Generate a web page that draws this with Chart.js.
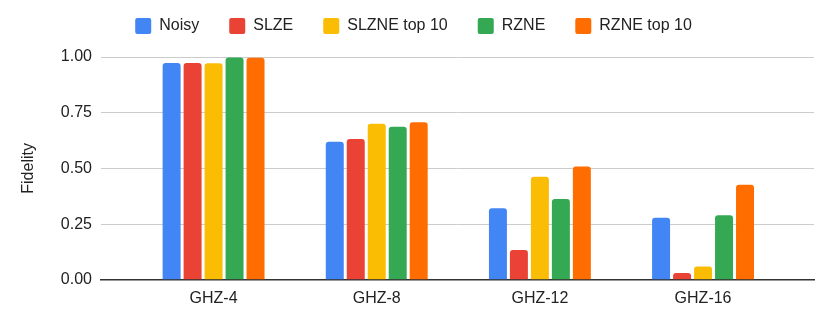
<!DOCTYPE html>
<html>
<head>
<meta charset="utf-8">
<script src="https://cdn.jsdelivr.net/npm/chart.js@4/dist/chart.umd.min.js"></script>
<style>
  html, body { margin: 0; padding: 0; background: #fff; }
  #wrap { width: 830px; height: 324px; }
</style>
</head>
<body>
<div id="wrap"><canvas id="chart"></canvas></div>
<script>
// values
const categories = ['GHZ-4', 'GHZ-8', 'GHZ-12', 'GHZ-16'];
const noisy = [0.973, 0.620, 0.321, 0.278];
const slze = [0.973, 0.632, 0.134, 0.030];
const slzneTop10 = [0.972, 0.700, 0.463, 0.060];
const rzne = [0.998, 0.687, 0.363, 0.290];
const rzneTop10 = [0.997, 0.707, 0.508, 0.427];
const yTicks = [0, 0.25, 0.5, 0.75, 1];

const font = "Arial, 'Liberation Sans', sans-serif";
Chart.defaults.font.family = font;
Chart.defaults.font.size = 16;
Chart.defaults.color = '#222';

const points = (vals) => vals.map((v, i) => ({ x: i, y: v }));

const series = [
    { label: 'Noisy', data: noisy, color: '#4285F4' },
    { label: 'SLZE', data: slze, color: '#EA4335' },
    { label: 'SLZNE top 10', data: slzneTop10, color: '#FBBC04' },
    { label: 'RZNE', data: rzne, color: '#34A853' },
    { label: 'RZNE top 10', data: rzneTop10, color: '#FF6D01' }
];

const ctx = document.getElementById('chart').getContext('2d');

new Chart(ctx, {
    type: 'bar',
    data: {
        datasets: series.map(s => ({
            label: s.label,
            data: points(s.data),
            backgroundColor: s.color,
            borderRadius: 3,
            categoryPercentage: 0.643,
            barPercentage: 0.857
        }))
    },
    options: {
        responsive: true,
        maintainAspectRatio: false,
        animation: false,
        layout: { padding: { top: -12, left: 13, right: 16, bottom: 7 } },
        plugins: {
            tooltip: { enabled: false },
            legend: {
                position: 'top',
                labels: {
                    boxWidth: 16,
                    boxHeight: 16,
                    useBorderRadius: true,
                    borderRadius: 2,
                    padding: 30,
                    font: { size: 16 }
                }
            },
            // empty spacer between legend and plot
            subtitle: {
                display: true,
                text: '',
                weight: 500,
                padding: 0,
                font: { size: 10, lineHeight: 1.3 }
            }
        },
        scales: {
            x: {
                type: 'linear',
                offset: false,
                min: -0.69,
                max: 3.68,
                z: 1,
                grid: { display: false, drawTicks: false },
                border: { display: true, color: '#333', width: 1.5 },
                ticks: {
                    stepSize: 1,
                    includeBounds: false,
                    autoSkip: false,
                    maxRotation: 0,
                    padding: 9,
                    callback: (v) => categories[v] ?? ''
                }
            },
            y: {
                min: 0,
                max: 1,
                afterFit: (scale) => { scale.width = 88; },
                afterBuildTicks: (scale) => { scale.ticks = yTicks.map(v => ({ value: v })); },
                grid: { color: '#cccccc', drawTicks: false },
                border: { display: false },
                ticks: {
                    padding: 9,
                    callback: (v) => v.toFixed(2)
                },
                title: {
                    display: true,
                    text: 'Fidelity',
                    padding: { top: 6, bottom: 2 },
                    font: { size: 16 }
                }
            }
        }
    }
});
</script>
</body>
</html>
